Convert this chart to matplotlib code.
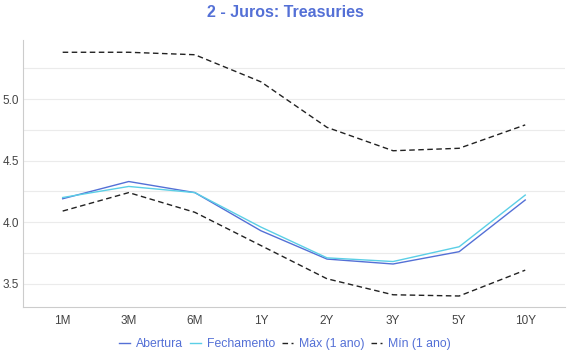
import matplotlib
matplotlib.use("Agg")
import matplotlib.pyplot as plt
import numpy as np

categories = ["1M", "3M", "6M", "1Y", "2Y", "3Y", "5Y", "10Y"]
abertura = [4.19, 4.33, 4.24, 3.93, 3.70, 3.66, 3.76, 4.18]
fechamento = [4.20, 4.29, 4.24, 3.96, 3.71, 3.68, 3.80, 4.22]
maximo = [5.38, 5.38, 5.36, 5.14, 4.77, 4.58, 4.60, 4.79]
minimo = [4.09, 4.24, 4.08, 3.81, 3.54, 3.41, 3.40, 3.61]
y_ticks = [3.5, 4.0, 4.5, 5.0]
y_grid = [3.5, 3.75, 4.0, 4.25, 4.5, 4.75, 5.0, 5.25]

blue = "#5470d6"
cyan = "#5bcfe6"
textblue = "#5470d6"

plt.rcParams['font.family'] = ['Liberation Sans', 'DejaVu Sans']
fig = plt.figure(figsize=(5.7, 3.6), dpi=100)
ax = fig.add_axes([0.0404, 0.147, 0.991 - 0.0404, 0.889 - 0.147])

x = np.arange(len(categories))
ax.plot(x, abertura, color=blue, lw=1.0, label="Abertura")
ax.plot(x, fechamento, color=cyan, lw=1.0, label="Fechamento")
ax.plot(x, maximo, color="#222222", lw=1.0, ls=(0, (4, 2.5)), label="Máx (1 ano)")
ax.plot(x, minimo, color="#222222", lw=1.0, ls=(0, (4, 2.5)), label="Mín (1 ano)")

ax.set_xlim(-0.6, len(categories) - 1 + 0.6)
ax.set_ylim(3.31, 5.48)
ax.set_xticks(x)
ax.set_xticklabels(categories)
ax.set_yticks(y_ticks)
ax.set_yticklabels([f"{v:.1f}" for v in y_ticks])
for g in y_grid:
    ax.axhline(g, color="#ebebeb", lw=0.8, zorder=0)

for s in ["top", "right"]:
    ax.spines[s].set_visible(False)
for s in ["left", "bottom"]:
    ax.spines[s].set_color("#cccccc")
    ax.spines[s].set_linewidth(0.8)
ax.tick_params(axis="both", length=0, labelsize=8.5, colors="#444444", pad=6)
ax.tick_params(axis="y", pad=3)

fig.suptitle("2 - Juros: Treasuries", x=0.5, y=0.985, fontsize=11.5,
             fontweight="bold", color=textblue)

leg = fig.legend(loc="center", bbox_to_anchor=(0.5, 0.045), ncol=4, frameon=False,
                 fontsize=8.8, handlelength=0.9, handletextpad=0.5, columnspacing=0.55)
for t in leg.get_texts():
    t.set_color(textblue)

fig.savefig("out.png", dpi=100)
